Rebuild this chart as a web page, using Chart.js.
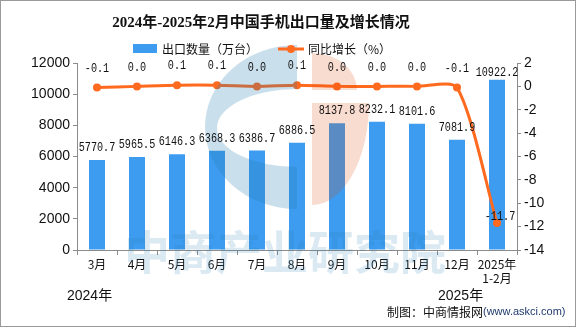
<!DOCTYPE html>
<html>
<head>
<meta charset="utf-8">
<script src="https://cdn.jsdelivr.net/npm/chart.js@4/dist/chart.umd.min.js"></script>
<style>
  html,body{margin:0;padding:0;background:#fff;}
  #wrap{width:576px;height:327px;position:relative;}
</style>
</head>
<body>
<div id="wrap"><canvas id="c" width="576" height="327"></canvas></div>
<script>
/* data */
const categories = ["3月","4月","5月","6月","7月","8月","9月","10月","11月","12月",["2025年","1-2月"]];
const exportVolume = [5770.7,5965.5,6146.3,6368.3,6386.7,6886.5,8137.8,8232.1,8101.6,7081.9,10922.2];
const yoyGrowth = [-0.1,0.0,0.1,0.1,0.0,0.1,0.0,0.0,0.0,-0.1,-11.7];
const leftRange = [0,12000,2000];
const rightRange = [-14,2,2];

const BAR = "#3d9cf0", LINE = "#ff6a1f", AXIS = "#8c8c8c";
const CJK = "'Noto Sans CJK SC'";
const NUMF = "'Liberation Sans', 'Noto Sans CJK SC'";
const MONO = "12px 'Liberation Mono', 'DejaVu Sans Mono', monospace";

function fmt1(v){ return v.toFixed(1); }

// watermark + frame + title/legend/notes, all drawn by hand
const decor = {
  id:"decor",
  afterDatasetsDraw(chart){
    const ctx = chart.ctx;
    ctx.save();
    // logo, blue half
    ctx.fillStyle = "rgba(35,123,175,0.24)";
    ctx.beginPath();
    ctx.ellipse(297,127,92,82,0,Math.PI/2,Math.PI*1.5,false);
    ctx.ellipse(297,128,80,39,0,Math.PI*1.5,Math.PI/2,true);
    ctx.closePath();
    ctx.fill();
    // logo, orange half
    ctx.fillStyle = "rgba(218,71,0,0.19)";
    ctx.beginPath();
    ctx.moveTo(312,90);
    ctx.ellipse(312,90,45,37,0,Math.PI*1.5,0,false);
    ctx.closePath();
    ctx.fill();
    ctx.beginPath();
    ctx.moveTo(312,103);
    ctx.ellipse(312,103,57,102,0,0,Math.PI/2,false);
    ctx.closePath();
    ctx.fill();
    // watermark text
    ctx.fillStyle = "rgba(35,123,175,0.17)";
    ctx.font = "bold 46px "+CJK;
    ctx.textAlign = "center"; ctx.textBaseline = "middle";
    ctx.fillText("中商产业研究院",285,252,334);
    ctx.restore();

    // value labels
    const bars = chart.getDatasetMeta(1).data;
    const pts = chart.getDatasetMeta(0).data;
    ctx.save();
    ctx.fillStyle = "#111";
    ctx.font = MONO;
    ctx.textAlign = "center"; ctx.textBaseline = "middle";
    bars.forEach((b,i)=>{
      const off = i===bars.length-1 ? 7 : 12;
      const t = fmt1(exportVolume[i]);
      ctx.fillText(t, b.x, b.y-off, t.length*6.1);
    });
    pts.forEach((p,i)=>{
      const t = fmt1(yoyGrowth[i]);
      if(i===pts.length-1){ ctx.fillText(t, p.x+3, p.y-6, t.length*6.1); }
      else ctx.fillText(t, p.x, p.y-19, t.length*6.1);
    });
    ctx.restore();
  },
  afterDraw(chart){
    const ctx = chart.ctx;
    ctx.save();
    // title
    ctx.fillStyle = "#111";
    ctx.font = "bold 15px 'Liberation Serif', 'Noto Sans CJK SC'";
    ctx.textAlign = "center"; ctx.textBaseline = "middle";
    ctx.fillText("2024年-2025年2月中国手机出口量及增长情况",261,23);
    // legend
    ctx.fillStyle = BAR;
    ctx.fillRect(133,44,24,9);
    ctx.fillStyle = "#111";
    ctx.font = "12px "+CJK;
    ctx.textAlign = "left";
    ctx.fillText("出口数量（万台）",162,49);
    ctx.strokeStyle = LINE; ctx.lineWidth = 3;
    ctx.beginPath(); ctx.moveTo(278,49); ctx.lineTo(304,49); ctx.stroke();
    ctx.fillStyle = LINE;
    ctx.beginPath(); ctx.arc(291,49,4,0,Math.PI*2); ctx.fill();
    ctx.fillStyle = "#111";
    ctx.fillText("同比增长（%）",308,49);
    // year notes
    ctx.font = "14px "+NUMF;
    ctx.fillText("2024年",67,296);
    ctx.fillText("2025年",438,296);
    // source
    ctx.font = "12px "+CJK;
    ctx.fillText("制图：中商情报网",387,312);
    ctx.fillStyle = "#203a70";
    ctx.font = "11px "+NUMF;
    ctx.fillText("(www.askci.com)",483,312);
    // frame
    ctx.strokeStyle = "#9a9a9a"; ctx.lineWidth = 1;
    ctx.strokeRect(0.5,0.5,575,326);
    ctx.restore();
  }
};

new Chart(document.getElementById("c"),{
  data:{
    labels:categories,
    datasets:[
      {type:"line",label:"同比增长（%）",data:yoyGrowth,yAxisID:"y2",order:0,
       borderColor:LINE,backgroundColor:LINE,borderWidth:3,tension:0.25,
       pointRadius:4,pointBackgroundColor:LINE,pointBorderWidth:0},
      {type:"bar",label:"出口数量（万台）",data:exportVolume,yAxisID:"y",order:1,
       backgroundColor:BAR,barPercentage:0.4,categoryPercentage:1.0}
    ]
  },
  options:{
    responsive:false,animation:false,
    layout:{padding:{top:63,left:0,right:0,bottom:0}},
    plugins:{legend:{display:false},title:{display:false},tooltip:{enabled:false}},
    scales:{
      x:{
        grid:{drawOnChartArea:false,offset:true,tickLength:5,color:AXIS},
        border:{color:AXIS},
        ticks:{color:"#111",font:{family:CJK,size:12},padding:2,maxRotation:0,autoSkip:false},
        afterFit(s){ s.height = 77; }
      },
      y:{
        position:"left",min:leftRange[0],max:leftRange[1],
        ticks:{stepSize:leftRange[2],color:"#111",font:{family:NUMF,size:14},padding:3,callback:v=>String(v)},
        grid:{drawOnChartArea:false,tickLength:4,color:AXIS},
        border:{color:AXIS},
        afterFit(s){ s.width = 77; }
      },
      y2:{
        position:"right",min:rightRange[0],max:rightRange[1],
        ticks:{stepSize:rightRange[2],color:"#111",font:{family:NUMF,size:14},padding:3,callback:v=>String(v)},
        grid:{drawOnChartArea:false,tickLength:4,color:AXIS},
        border:{color:AXIS},
        afterFit(s){ s.width = 59; }
      }
    }
  },
  plugins:[decor]
});
</script>
</body>
</html>
